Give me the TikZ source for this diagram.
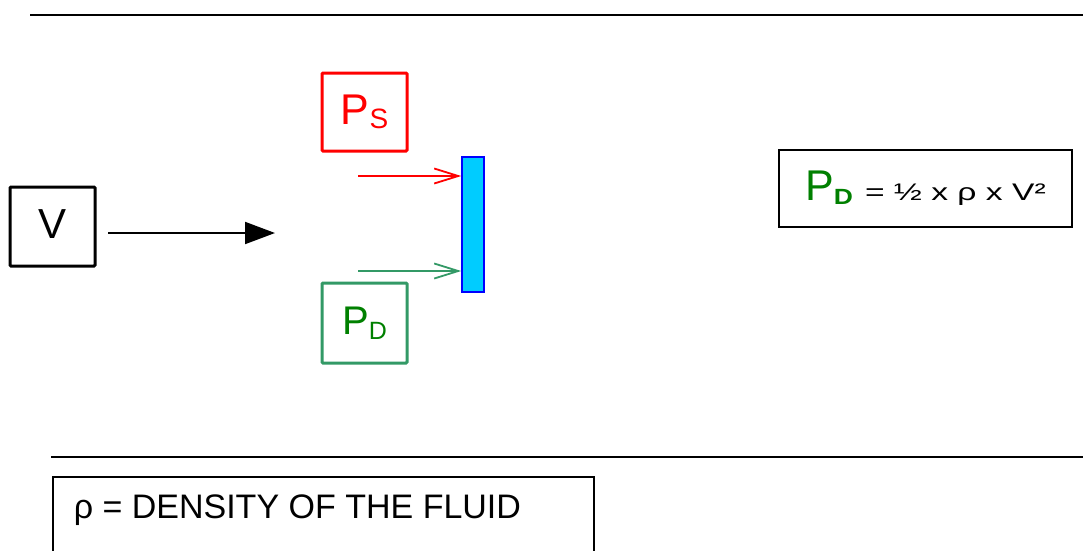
\documentclass[tikz,border=0pt]{standalone}
\usepackage{fontspec}
\setmainfont{Liberation Sans}
\usetikzlibrary{arrows.meta}
\definecolor{sgreen}{HTML}{339966}
\definecolor{dgreen}{HTML}{008000}
\definecolor{platec}{HTML}{00CCFF}
\tikzset{
  thickbox/.style={draw, line width=3pt, rounded corners=1pt, inner sep=0pt},
  thinbox/.style={draw, line width=1.5pt, inner sep=0pt},
  rule/.style={line width=2pt},
  forcearrow/.style={line width=1.8pt, -{Straight Barb[length=24pt,width=15pt,line width=1.8pt]}},
}
\newcommand{\fs}[1]{\fontsize{#1}{#1}\selectfont\spaceskip=0.278\dimexpr #1pt\relax}
\begin{document}
\begin{tikzpicture}[x=1pt,y=-1pt]
\useasboundingbox (0,0) rectangle (1083,550);
% horizontal rules
\draw[rule] (30,15) -- (1090,15);
\draw[rule] (51,457) -- (1090,457);
% velocity box and arrow
\node[thickbox, minimum width=85pt, minimum height=79pt] (V) at (52.5,226.5) {\fs{42}\raisebox{4pt}{V}};
\coordinate (vs) at (108,233);
\coordinate (ve) at (275,233);
\draw[line width=2pt, -{Triangle[length=30pt,width=22pt]}] (vs) -- (ve);
% plate
\node[draw=blue, fill=platec, line width=1.5pt, minimum width=22pt, minimum height=135pt, inner sep=0pt] (plate) at (473,224.5) {};
% static pressure
\node[thickbox, draw=red, text=red, minimum width=85pt, minimum height=78pt] (PS) at (364.5,112) {\fs{43}P\raisebox{-4pt}{\fs{28}S}\hspace{12pt}};
\coordinate (rs) at (358,176);
\draw[forcearrow, red] (rs) -- (rs -| plate.west);
% dynamic pressure
\node[thickbox, draw=sgreen, text=dgreen, minimum width=85pt, minimum height=80pt] (PD) at (364.5,323) {\fs{40}P\raisebox{-5pt}{\fs{25}D}\hspace{10pt}};
\coordinate (gs) at (358,271);
\draw[forcearrow, sgreen] (gs) -- (gs -| plate.west);
% formula
\node[thinbox, minimum width=293pt, minimum height=77pt] (F) at (925.5,188.5)
  {{\color{dgreen}\fs{43}P\raisebox{-4pt}{\scalebox{1.2}[1]{\fs{22}\bfseries D}}}\hspace{12pt}\scalebox{1.4}[1]{\fs{24}= ½ x ρ x V²}};
% legend
\node[thinbox, anchor=north west, text width=499pt, align=left, inner xsep=21pt, inner ysep=18pt,
      text height=24pt, text depth=60pt] (L) at (52,476) {\fs{34}ρ = DENSITY OF THE FLUID};
\end{tikzpicture}
\end{document}
